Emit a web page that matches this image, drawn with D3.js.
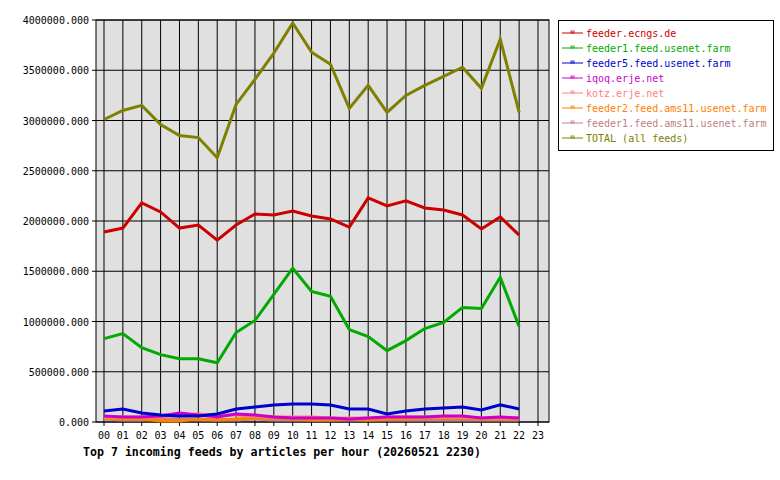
<!DOCTYPE html>
<html><head><meta charset="utf-8">
<script src="https://cdn.jsdelivr.net/npm/d3@7"></script>
<style>body{margin:0;background:#fff}text{font-family:"DejaVu Sans Mono",monospace;font-size:10px}</style>
</head><body><svg id="c" width="780" height="480"></svg>
<script>
const hours = d3.range(24).map(h => String(h).padStart(2, "0"));
const yTicks = [0, 500000, 1000000, 1500000, 2000000, 2500000, 3000000, 3500000, 4000000];
const feedNames = ["feeder.ecngs.de", "feeder1.feed.usenet.farm", "feeder5.feed.usenet.farm", "iqoq.erje.net",
  "kotz.erje.net", "feeder2.feed.ams11.usenet.farm", "feeder1.feed.ams11.usenet.farm", "TOTAL (all feeds)"];
const feedColors = ["#cc0000", "#00aa00", "#0000cc", "#cc00cc", "#ff8080", "#ff8000", "#c08080", "#808000"];
const ecngs = [1.89,1.93,2.18,2.09,1.93,1.96,1.81,1.96,2.07,2.06,2.10,2.05,2.02,1.94,2.23,2.15,2.20,2.13,2.11,2.06,1.92,2.04,1.86];
const feeder1 = [0.83,0.88,0.74,0.67,0.63,0.63,0.59,0.89,1.01,1.27,1.53,1.30,1.25,0.92,0.85,0.71,0.81,0.93,0.99,1.14,1.13,1.44,0.95];
const feeder5 = [0.11,0.13,0.09,0.07,0.06,0.06,0.08,0.13,0.15,0.17,0.18,0.18,0.17,0.13,0.13,0.08,0.11,0.13,0.14,0.15,0.12,0.17,0.13];
const iqoq = [0.06,0.05,0.05,0.06,0.09,0.07,0.05,0.08,0.07,0.05,0.04,0.04,0.04,0.03,0.04,0.05,0.05,0.05,0.06,0.06,0.04,0.05,0.04];
const kotz = [0.05,0.05,0.05,0.05,0.07,0.08,0.07,0.07,0.06,0.05,0.05,0.05,0.04,0.04,0.04,0.05,0.05,0.05,0.05,0.05,0.04,0.04,0.04];
const ams2 = [0.04,0.03,0.03,0.01,0.01,0.03,0.02,0.03,0.04,0.04,0.03,0.02,0.02,0.03,0.02,0.03,0.03,0.04,0.04,0.04,0.03,0.03,0.03];
const ams1 = [0.03,0.02,0.02,0.03,0.03,0.02,0.02,0.02,0.03,0.02,0.02,0.02,0.02,0.02,0.02,0.02,0.02,0.02,0.02,0.02,0.02,0.02,0.02];
const total = [3.01,3.10,3.15,2.96,2.85,2.83,2.63,3.16,3.41,3.67,3.97,3.68,3.56,3.12,3.35,3.08,3.25,3.35,3.44,3.53,3.32,3.81,3.08];
const series = [ecngs, feeder1, feeder5, iqoq, kotz, ams2, ams1, total];

const svg = d3.select("#c");
const L = 96, R = 549, T = 20, B = 422;
const x = d3.scalePoint().domain(hours).range([104, 538]);
const y = d3.scaleLinear().domain([0, 4000000]).range([B, T]);

svg.append("rect").attr("x", L).attr("y", T).attr("width", R - L).attr("height", B - T)
  .attr("fill", "#e0e0e0").attr("stroke", "#000");

svg.selectAll(".vg").data(hours).enter().append("line")
  .attr("x1", d => x(d)).attr("x2", d => x(d)).attr("y1", T).attr("y2", B + 4).attr("stroke", "#000");
svg.selectAll(".hg").data(yTicks).enter().append("line")
  .attr("x1", L - 4).attr("x2", R).attr("y1", d => y(d)).attr("y2", d => y(d)).attr("stroke", "#000");
svg.selectAll(".yl").data(yTicks).enter().append("text")
  .attr("x", L - 7).attr("y", d => y(d) + 4).attr("text-anchor", "end").text(d => d3.format(".3f")(d));
svg.selectAll(".xl").data(hours).enter().append("text")
  .attr("x", d => x(d)).attr("y", B + 17).attr("text-anchor", "middle").text(d => d);

const line = d3.line().x((d, i) => x(hours[i])).y(d => y(d * 1e6));
// small feeds first, big ones on top
[6, 5, 4, 3, 2, 1, 0, 7].forEach(i => {
  svg.append("path").attr("d", line(series[i])).attr("fill", "none")
    .attr("stroke", feedColors[i]).attr("stroke-width", 3);
});

svg.append("text").attr("x", 83).attr("y", 456).attr("font-weight", "bold").style("font-size", "11.6px")
  .text("Top 7 incoming feeds by articles per hour (20260521 2230)");

const lg = svg.append("g");
lg.append("rect").attr("x", 558.5).attr("y", 20.5).attr("width", 215).attr("height", 130).attr("fill", "#fff").attr("stroke", "#000");
feedNames.forEach((n, i) => {
  const yy = 33 + i * 15;
  lg.append("line").attr("x1", 562).attr("x2", 583).attr("y1", yy).attr("y2", yy).attr("stroke", feedColors[i]);
  lg.append("rect").attr("x", 571).attr("y", yy - 2).attr("width", 3).attr("height", 2).attr("fill", "none").attr("stroke", feedColors[i]).attr("stroke-width", 0.8);
  lg.append("text").attr("x", 586).attr("y", yy + 4).attr("fill", feedColors[i]).text(n);
});
</script></body></html>
